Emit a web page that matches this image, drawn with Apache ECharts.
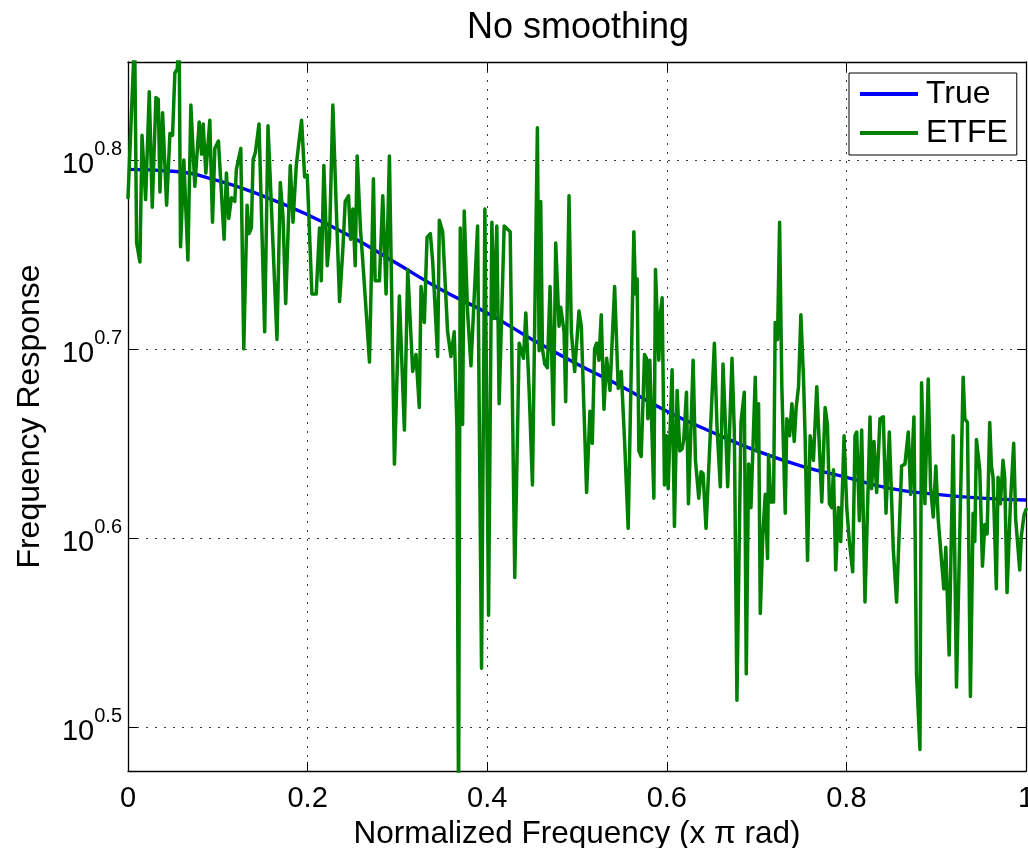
<!DOCTYPE html>
<html><head><meta charset="utf-8">
<script src="https://cdn.jsdelivr.net/npm/echarts@6/dist/echarts.min.js"></script>
<style>html,body{margin:0;padding:0;background:#fff}#c{width:1028px;height:848px}</style>
</head><body><div id="c"></div>
<script>
// ---- data (magnitudes as log10 exponents) ----
const titleText = 'No smoothing';
const xAxisLabel = 'Normalized Frequency (x \u03c0 rad)';
const yAxisLabel = 'Frequency Response';
const seriesNames = ['True', 'ETFE'];
const yTickExponents = [0.5, 0.6, 0.7, 0.8];

const trueFreq = [0, 0.05, 0.1, 0.15, 0.2, 0.25, 0.3, 0.35, 0.4, 0.45, 0.5, 0.55, 0.6, 0.65, 0.7, 0.75, 0.8, 0.85, 0.9, 0.95, 1.0];
const trueLogMag = [0.795, 0.794, 0.789, 0.781, 0.771, 0.759, 0.745, 0.731, 0.719, 0.705, 0.692, 0.680, 0.667, 0.656, 0.646, 0.638, 0.632, 0.626, 0.623, 0.621, 0.620];

const etfeFreq = [
0.0000,0.0074,0.0096,0.0133,0.0156,0.0196,0.0237,0.0270,0.0311,0.0337,0.0356,0.0385,0.0430,0.0467,0.0496,0.0522,0.0548,0.0570,0.0585,0.0622,
0.0667,0.0700,0.0744,0.0793,0.0819,0.0837,0.0867,0.0911,0.0941,0.0967,0.1007,0.1070,0.1096,0.1122,0.1152,0.1189,0.1207,0.1256,0.1289,0.1326,
0.1348,0.1374,0.1393,0.1419,0.1459,0.1522,0.1559,0.1659,0.1696,0.1726,0.1756,0.1807,0.1837,0.1874,0.1900,0.1933,0.1967,0.1996,0.2048,0.2096,
0.2133,0.2152,0.2181,0.2219,0.2244,0.2281,0.2319,0.2356,0.2393,0.2419,0.2456,0.2478,0.2504,0.2530,0.2552,0.2589,0.2615,0.2652,0.2689,0.2733,
0.2752,0.2800,0.2837,0.2874,0.2911,0.2967,0.3022,0.3078,0.3115,0.3170,0.3207,0.3244,0.3263,0.3300,0.3330,0.3367,0.3393,0.3448,0.3467,0.3504,
0.3559,0.3596,0.3633,0.3663,0.3681,0.3700,0.3726,0.3744,0.3781,0.3819,0.3893,0.3937,0.3974,0.4015,0.4052,0.4078,0.4107,0.4133,0.4189,0.4256,
0.4307,0.4356,0.4404,0.4430,0.4467,0.4504,0.4559,0.4578,0.4596,0.4615,0.4641,0.4670,0.4700,0.4737,0.4763,0.4800,0.4819,0.4856,0.4874,0.4911,
0.4937,0.4974,0.5022,0.5048,0.5107,0.5144,0.5170,0.5196,0.5219,0.5244,0.5270,0.5300,0.5330,0.5367,0.5419,0.5459,0.5493,0.5530,0.5570,0.5633,
0.5652,0.5670,0.5689,0.5715,0.5752,0.5774,0.5789,0.5811,0.5856,0.5874,0.5893,0.5911,0.5930,0.5948,0.5974,0.5996,0.6015,0.6059,0.6085,0.6115,
0.6144,0.6170,0.6189,0.6219,0.6241,0.6263,0.6293,0.6319,0.6356,0.6381,0.6404,0.6437,0.6493,0.6530,0.6559,0.6596,0.6626,0.6652,0.6678,0.6726,
0.6752,0.6781,0.6826,0.6863,0.6885,0.6911,0.6937,0.6959,0.6985,0.7004,0.7022,0.7041,0.7070,0.7096,0.7122,0.7133,0.7159,0.7189,0.7207,0.7233,
0.7256,0.7281,0.7319,0.7337,0.7367,0.7393,0.7419,0.7441,0.7467,0.7493,0.7522,0.7541,0.7567,0.7596,0.7633,0.7670,0.7689,0.7726,0.7763,0.7789,
0.7811,0.7837,0.7856,0.7881,0.7911,0.7937,0.7974,0.8004,0.8033,0.8070,0.8096,0.8115,0.8144,0.8170,0.8207,0.8263,0.8281,0.8307,0.8337,0.8374,
0.8411,0.8441,0.8478,0.8522,0.8559,0.8615,0.8652,0.8689,0.8715,0.8752,0.8781,0.8819,0.8837,0.8874,0.8911,0.8937,0.8967,0.8996,0.9022,0.9059,
0.9085,0.9107,0.9144,0.9189,0.9226,0.9300,0.9319,0.9348,0.9381,0.9411,0.9430,0.9448,0.9485,0.9515,0.9541,0.9567,0.9596,0.9615,0.9633,0.9670,
0.9689,0.9715,0.9744,0.9763,0.9789,0.9826,0.9863,0.9885,0.9900,0.9930,0.9948,0.9978,1.0000];
const etfeLogMag = [
0.780,0.866,0.756,0.746,0.813,0.779,0.836,0.775,0.833,0.832,0.783,0.825,0.776,0.814,0.813,0.846,0.848,0.862,0.754,0.800,
0.747,0.829,0.786,0.820,0.803,0.819,0.793,0.821,0.767,0.806,0.810,0.758,0.793,0.769,0.780,0.778,0.795,0.806,0.700,0.776,
0.761,0.764,0.800,0.804,0.819,0.709,0.818,0.705,0.788,0.770,0.724,0.797,0.767,0.797,0.808,0.821,0.791,0.792,0.729,0.729,
0.764,0.736,0.797,0.744,0.758,0.829,0.775,0.725,0.753,0.778,0.781,0.758,0.774,0.744,0.802,0.763,0.746,0.720,0.693,0.790,
0.736,0.736,0.781,0.729,0.802,0.639,0.728,0.657,0.742,0.688,0.697,0.669,0.733,0.714,0.759,0.761,0.746,0.696,0.768,0.762,
0.709,0.696,0.709,0.658,0.455,0.764,0.660,0.773,0.720,0.691,0.765,0.531,0.774,0.559,0.767,0.716,0.765,0.671,0.765,0.762,
0.579,0.703,0.695,0.719,0.678,0.628,0.817,0.699,0.778,0.700,0.692,0.690,0.733,0.660,0.756,0.712,0.722,0.709,0.672,0.781,
0.709,0.688,0.720,0.712,0.624,0.667,0.650,0.700,0.703,0.694,0.718,0.668,0.695,0.678,0.733,0.679,0.688,0.651,0.605,0.762,
0.729,0.737,0.646,0.643,0.697,0.695,0.663,0.694,0.621,0.742,0.741,0.694,0.719,0.727,0.628,0.654,0.626,0.689,0.606,0.678,
0.646,0.647,0.652,0.677,0.618,0.649,0.694,0.641,0.621,0.635,0.634,0.605,0.664,0.703,0.659,0.627,0.692,0.661,0.627,0.695,
0.656,0.514,0.661,0.677,0.528,0.639,0.616,0.616,0.685,0.646,0.671,0.560,0.602,0.623,0.589,0.644,0.619,0.619,0.714,0.705,
0.767,0.680,0.613,0.663,0.654,0.671,0.651,0.669,0.680,0.718,0.685,0.652,0.588,0.654,0.641,0.680,0.680,0.619,0.669,0.660,
0.618,0.616,0.636,0.583,0.616,0.598,0.654,0.616,0.598,0.582,0.654,0.656,0.609,0.657,0.566,0.664,0.626,0.651,0.624,0.663,
0.664,0.613,0.656,0.594,0.566,0.638,0.639,0.656,0.623,0.664,0.528,0.488,0.682,0.618,0.684,0.627,0.611,0.638,0.610,0.588,
0.573,0.595,0.538,0.654,0.521,0.685,0.663,0.661,0.516,0.613,0.598,0.652,0.636,0.585,0.607,0.602,0.661,0.638,0.632,0.573,
0.632,0.618,0.641,0.632,0.571,0.618,0.650,0.610,0.609,0.583,0.601,0.612,0.615];

// ---- chart ----
const FONT = '"Liberation Sans", Arial, Helvetica, sans-serif';
const zip = (xs, ys) => xs.map((x, i) => [x, ys[i]]);
const gridLine = { show: true, lineStyle: { color: '#3a3a3a', width: 1, type: [2, 7] } };
const tickIn = { show: true, inside: true, length: 9, lineStyle: { color: '#000', width: 1 } };
const axisLn = { show: true, onZero: false, lineStyle: { color: '#000', width: 1.3 } };

const chart = echarts.init(document.getElementById('c'), null, { renderer: 'canvas' });
chart.setOption({
  animation: false,
  backgroundColor: '#fff',
  graphic: [{
    type: 'text', x: 578, y: 10, z: 10,
    style: { text: titleText, fontSize: 36, fontFamily: FONT, fill: '#000', align: 'center', verticalAlign: 'top' }
  }],
  grid: { left: 128, top: 62, right: 2, bottom: 77, containLabel: false, outerBoundsMode: 'none' },
  legend: {
    data: seriesNames, orient: 'vertical', left: 849, top: 73,
    padding: [5, 9, 6, 11], itemGap: 7, itemWidth: 58, itemHeight: 4, icon: 'rect',
    borderColor: '#000', borderWidth: 1, backgroundColor: '#fff',
    textStyle: { fontSize: 32, color: '#000', fontFamily: FONT, padding: [0, 0, 0, 3] }
  },
  xAxis: [{
    type: 'value', min: 0, max: 1, interval: 0.2, position: 'bottom',
    axisLine: axisLn, axisTick: tickIn, splitLine: gridLine,
    axisLabel: { fontSize: 29, color: '#000', fontFamily: FONT, margin: 13 },
    name: xAxisLabel, nameLocation: 'middle', nameGap: 40,
    nameTextStyle: { fontSize: 31.5, color: '#000', fontFamily: FONT }
  }, {
    type: 'value', min: 0, max: 1, interval: 0.2, position: 'top',
    axisLine: axisLn, axisTick: tickIn, splitLine: { show: false }, axisLabel: { show: false }
  }],
  yAxis: [{
    type: 'value', min: 0.4766, max: 0.8518, position: 'left',
    axisLine: axisLn,
    axisTick: Object.assign({}, tickIn, { customValues: yTickExponents }),
    splitLine: gridLine,
    axisLabel: {
      customValues: yTickExponents, margin: 6, color: '#000',
      formatter: v => '{b|10}{s|' + v.toFixed(1) + '}',
      rich: {
        b: { fontSize: 29, fontFamily: FONT, color: '#000', verticalAlign: 'bottom' },
        s: { fontSize: 20, fontFamily: FONT, color: '#000', verticalAlign: 'bottom', padding: [0, 0, 20, 0] }
      }
    },
    name: yAxisLabel, nameLocation: 'middle', nameGap: 82, nameRotate: 90,
    nameTextStyle: { fontSize: 32, color: '#000', fontFamily: FONT }
  }, {
    type: 'value', min: 0.4766, max: 0.8518, position: 'right',
    axisLine: axisLn,
    axisTick: Object.assign({}, tickIn, { customValues: yTickExponents }),
    splitLine: { show: false }, axisLabel: { show: false }
  }],
  series: [{
    name: seriesNames[0], type: 'line', xAxisIndex: 0, yAxisIndex: 0,
    data: zip(trueFreq, trueLogMag), showSymbol: false, symbol: 'none', smooth: true, clip: true,
    lineStyle: { color: '#0000ff', width: 3.4 }, itemStyle: { color: '#0000ff' }, z: 2
  }, {
    name: seriesNames[1], type: 'line', xAxisIndex: 0, yAxisIndex: 0,
    data: zip(etfeFreq, etfeLogMag), showSymbol: false, symbol: 'none', clip: true,
    lineStyle: { color: '#008000', width: 3.5, join: 'round', cap: 'round' }, itemStyle: { color: '#008000' }, z: 3
  }]
});
</script>
</body></html>
